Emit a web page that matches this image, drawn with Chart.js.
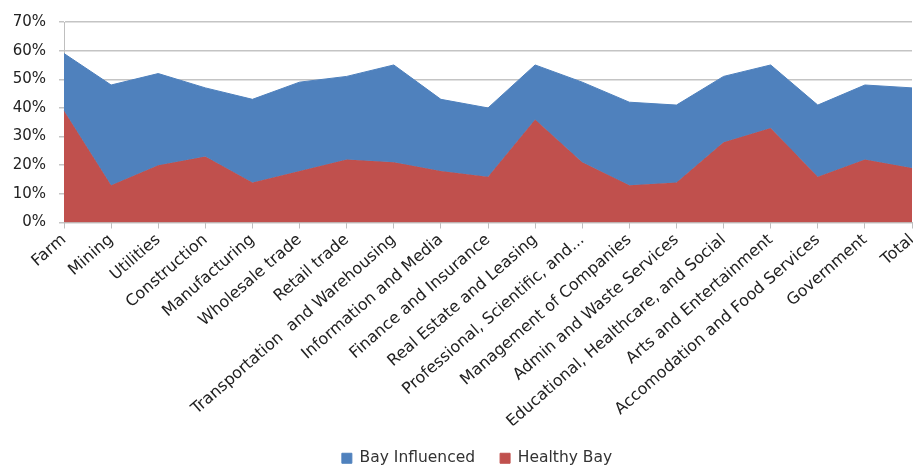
<!DOCTYPE html>
<html>
<head>
<meta charset="utf-8">
<script src="https://cdn.jsdelivr.net/npm/chart.js@4"></script>
<style>
  html, body { margin: 0; padding: 0; background: #fff; }
  #wrap { width: 913px; height: 468px; }
</style>
</head>
<body>
<div id="wrap"><canvas id="bayChart"></canvas></div>
<script>
// Industry categories along the x axis
const categories = [
  'Farm', 'Mining', 'Utilities', 'Construction', 'Manufacturing',
  'Wholesale trade', 'Retail trade', 'Transportation  and Warehousing',
  'Information and Media', 'Finance and Insurance', 'Real Estate and Leasing',
  'Professional, Scientific, and...', 'Management of Companies',
  'Admin and Waste Services', 'Educational, Healthcare, and Social',
  'Arts and Entertainment', 'Accomodation and Food Services', 'Government', 'Total'
];

// Top edge of the blue area (%)
const bayInfluenced = [59, 48, 52, 47, 43, 49, 51, 55, 43, 40, 55, 49, 42, 41, 51, 55, 41, 48, 47];
// Red area (%)
const healthyBay = [39, 13, 20, 23, 14, 18, 22, 21, 18, 16, 36, 21, 13, 14, 28, 33, 16, 22, 19];

const yTicks = [0, 10, 20, 30, 40, 50, 60, 70];

const font = 'DejaVu Sans';

// Excel centres the legend a little right of the canvas middle
const legendShift = {
  id: 'legendShift',
  afterLayout(chart) {
    chart.legend.left += 21;
    chart.legend.right += 21;
  },
};

new Chart(document.getElementById('bayChart'), {
  type: 'line',
  data: {
    labels: categories,
    datasets: [
      {
        label: 'Bay Influenced',
        data: bayInfluenced,
        backgroundColor: '#4F81BD',
        borderColor: '#4F81BD',
        borderWidth: 1,
        pointRadius: 0,
        fill: '+1',
      },
      {
        label: 'Healthy Bay',
        data: healthyBay,
        backgroundColor: '#C0504D',
        borderColor: '#C0504D',
        borderWidth: 1,
        pointRadius: 0,
        fill: 'origin',
      },
    ],
  },
  plugins: [legendShift],
  options: {
    responsive: true,
    maintainAspectRatio: false,
    animation: false,
    layout: { padding: { top: 17, right: 1, left: 0, bottom: -8 } },
    plugins: {
      legend: {
        position: 'bottom',
        labels: {
          boxWidth: 10,
          boxHeight: 10,
          padding: 25,
          color: '#333',
          font: { family: font, size: 15.5 },
        },
      },
      tooltip: { enabled: false },
    },
    scales: {
      x: {
        offset: false,
        afterFit: (axis) => {
          // let the plot run to the edges like the original
          axis.paddingLeft = 0;
          axis.paddingRight = 0;
          axis.height = 203;
        },
        grid: {
          drawOnChartArea: false,
          drawTicks: true,
          tickLength: 6,
          color: '#bfbfbf',
        },
        border: { color: '#bfbfbf' },
        ticks: {
          autoSkip: false,
          maxRotation: 41,
          minRotation: 41,
          color: '#222',
          font: { family: font, size: 16 },
          padding: 2,
        },
      },
      y: {
        min: 0,
        max: 70,
        afterBuildTicks: (axis) => {
          axis.ticks = yTicks.map((v) => ({ value: v }));
        },
        afterFit: (axis) => {
          axis.width = 64;
        },
        grid: {
          color: '#c4c4c4',
          lineWidth: 1.5,
          tickLength: 5,
        },
        border: { color: '#bfbfbf' },
        ticks: {
          callback: (v) => v + '%',
          color: '#222',
          font: { family: font, size: 15 },
          padding: 13,
        },
      },
    },
  },
});
</script>
</body>
</html>
